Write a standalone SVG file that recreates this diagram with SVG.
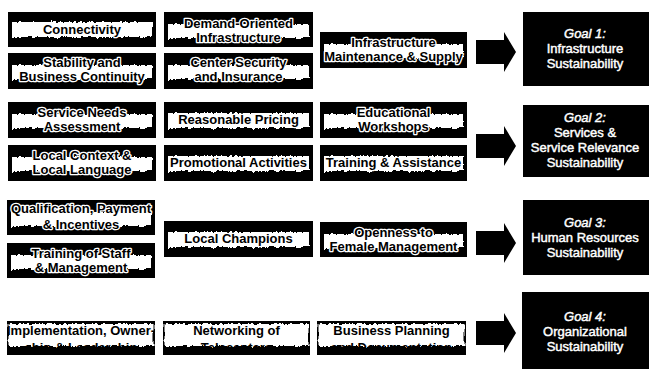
<svg xmlns="http://www.w3.org/2000/svg" width="652" height="369" viewBox="0 0 652 369">
  <style>
    .box { fill: #000; }
    .band { fill: #fff; filter: url(#rough); }
    .lbl { font-family: "Liberation Sans", Arial, sans-serif; font-weight: bold; font-size: 13px; fill: #000; stroke: #fff; stroke-width: 2.6px; stroke-linejoin: round; paint-order: stroke fill; text-anchor: middle; }
    .lbl4 { font-family: "Liberation Sans", Arial, sans-serif; font-weight: bold; font-size: 13px; fill: #000; text-anchor: middle; }
    .goal { fill: #000; }
    .gtxt { font-family: "Liberation Sans", Arial, sans-serif; font-size: 13px; fill: #fff; stroke: #fff; stroke-width: 0.45px; text-anchor: middle; }
    .gtxt .it { font-style: italic; }
    .arrow { fill: #000; }
  </style>
  <defs>
    <!-- torn edge for the white label bands -->
    <filter id="rough" x="-5%" y="-40%" width="110%" height="180%">
      <feTurbulence type="fractalNoise" baseFrequency="0.35 0.09" numOctaves="2" seed="4" result="n"/>
      <feDisplacementMap in="SourceGraphic" in2="n" scale="5" xChannelSelector="R" yChannelSelector="G"/>
    </filter>
    <!-- block arrow, origin at left end of shaft, centred vertically -->
    <polygon id="blockArrow" class="arrow" points="0,-12 28,-12 28,-20 40,0 28,20 28,12 0,12"/>
  </defs>

  <rect width="652" height="369" fill="#fff"/>

  <!-- Goal 1 inputs -->
  <g id="n-connectivity" transform="translate(8,12)">
    <rect class="box" width="148" height="35"/><rect class="band" x="4" y="10" width="140" height="15"/>
    <text class="lbl" x="74" y="21.5">Connectivity</text>
  </g>
  <g id="n-demand-oriented" transform="translate(164,12)">
    <rect class="box" width="149" height="35"/><rect class="band" x="4" y="12" width="141" height="14"/>
    <text class="lbl" x="74.5" y="15.5">Demand-Oriented</text><text class="lbl" x="74.5" y="29.5">Infrastructure</text>
  </g>
  <g id="n-stability" transform="translate(8,53)">
    <rect class="box" width="148" height="36"/><rect class="band" x="4" y="12" width="140" height="14"/>
    <text class="lbl" x="74" y="14">Stability and</text><text class="lbl" x="74" y="28">Business Continuity</text>
  </g>
  <g id="n-center-security" transform="translate(164,53)">
    <rect class="box" width="149" height="36"/><rect class="band" x="4" y="12" width="141" height="14"/>
    <text class="lbl" x="74.5" y="14">Center Security</text><text class="lbl" x="74.5" y="28">and Insurance</text>
  </g>
  <g id="n-maintenance" transform="translate(320,32)">
    <rect class="box" width="147" height="36"/><rect class="band" x="4" y="12" width="139" height="14"/>
    <text class="lbl" x="73.5" y="15">Infrastructure</text><text class="lbl" x="73.5" y="29">Maintenance &amp; Supply</text>
  </g>

  <!-- Goal 2 inputs -->
  <g id="n-service-needs" transform="translate(8,102)">
    <rect class="box" width="148" height="36"/><rect class="band" x="4" y="12" width="140" height="14"/>
    <text class="lbl" x="74" y="15">Service Needs</text><text class="lbl" x="74" y="29">Assessment</text>
  </g>
  <g id="n-pricing" transform="translate(164,102)">
    <rect class="box" width="149" height="36"/><rect class="band" x="4" y="11" width="141" height="15"/>
    <text class="lbl" x="74.5" y="22">Reasonable Pricing</text>
  </g>
  <g id="n-workshops" transform="translate(320,102)">
    <rect class="box" width="147" height="36"/><rect class="band" x="4" y="12" width="139" height="14"/>
    <text class="lbl" x="73.5" y="15">Educational</text><text class="lbl" x="73.5" y="29">Workshops</text>
  </g>
  <g id="n-local-context" transform="translate(8,145)">
    <rect class="box" width="148" height="36"/><rect class="band" x="4" y="12" width="140" height="14"/>
    <text class="lbl" x="74" y="15">Local Context &amp;</text><text class="lbl" x="74" y="29">Local Language</text>
  </g>
  <g id="n-promotional" transform="translate(164,145)">
    <rect class="box" width="149" height="36"/><rect class="band" x="4" y="11" width="141" height="15"/>
    <text class="lbl" x="74.5" y="22">Promotional Activities</text>
  </g>
  <g id="n-training-assistance" transform="translate(320,145)">
    <rect class="box" width="147" height="36"/><rect class="band" x="4" y="11" width="139" height="15"/>
    <text class="lbl" x="73.5" y="22">Training &amp; Assistance</text>
  </g>

  <!-- Goal 3 inputs -->
  <g id="n-qualification" transform="translate(7,200)">
    <rect class="box" width="148" height="35"/><rect class="band" x="4" y="12" width="140" height="14"/>
    <text class="lbl" x="74" y="13">Qualification, Payment</text><text class="lbl" x="74" y="28.5">&amp; Incentives</text>
  </g>
  <g id="n-training-staff" transform="translate(7,243)">
    <rect class="box" width="148" height="35"/><rect class="band" x="4" y="12" width="140" height="14"/>
    <text class="lbl" x="74" y="14.5">Training of Staff</text><text class="lbl" x="74" y="28.5">&amp; Management</text>
  </g>
  <g id="n-local-champions" transform="translate(164,221)">
    <rect class="box" width="149" height="36"/><rect class="band" x="4" y="11" width="141" height="15"/>
    <text class="lbl" x="74.5" y="22">Local Champions</text>
  </g>
  <g id="n-openness" transform="translate(320,222)">
    <rect class="box" width="147" height="35"/><rect class="band" x="4" y="12" width="139" height="14"/>
    <text class="lbl" x="73.5" y="14.5">Openness to</text><text class="lbl" x="73.5" y="28.5">Female Management</text>
  </g>

  <!-- Goal 4 inputs: second line mostly sunk into the dark base strip -->
  <g id="n-implementation" transform="translate(7,321)">
    <rect class="box" width="148" height="34"/><rect class="band" x="1.5" y="3" width="145" height="22"/>
    <text class="lbl4" x="74" y="14">Implementation, Owner-</text><text class="lbl4" x="74" y="30.5">ship &amp; Leadership</text>
  </g>
  <g id="n-networking" transform="translate(163,321)">
    <rect class="box" width="147" height="34"/><rect class="band" x="1.5" y="3" width="144" height="22"/>
    <text class="lbl4" x="73.5" y="14">Networking of</text><text class="lbl4" x="73.5" y="30.5">Telecenters</text>
  </g>
  <g id="n-business-planning" transform="translate(317,321)">
    <rect class="box" width="149" height="34"/><rect class="band" x="1.5" y="3" width="146" height="22"/>
    <text class="lbl4" x="74.5" y="14">Business Planning</text><text class="lbl4" x="74.5" y="30.5">and Documentation</text>
  </g>

  <!-- Goals -->
  <g id="goal-1">
    <rect class="goal" x="523" y="12" width="126" height="74"/>
    <text class="gtxt"><tspan class="it" x="585" y="38">Goal 1:</tspan><tspan x="585" y="53">Infrastructure</tspan><tspan x="585" y="68">Sustainability</tspan></text>
  </g>
  <g id="goal-2">
    <rect class="goal" x="523" y="105" width="126" height="72"/>
    <text class="gtxt"><tspan class="it" x="585" y="122">Goal 2:</tspan><tspan x="585" y="137">Services &amp;</tspan><tspan x="585" y="152">Service Relevance</tspan><tspan x="585" y="167">Sustainability</tspan></text>
  </g>
  <g id="goal-3">
    <rect class="goal" x="523" y="200" width="126" height="75"/>
    <text class="gtxt"><tspan class="it" x="585" y="227">Goal 3:</tspan><tspan x="585" y="242">Human Resources</tspan><tspan x="585" y="257">Sustainability</tspan></text>
  </g>
  <g id="goal-4">
    <rect class="goal" x="522" y="292" width="127" height="77"/>
    <text class="gtxt"><tspan class="it" x="585" y="321">Goal 4:</tspan><tspan x="585" y="336">Organizational</tspan><tspan x="585" y="351">Sustainability</tspan></text>
  </g>

  <!-- Arrows into the goals -->
  <g id="connectors">
    <use href="#blockArrow" transform="translate(476,52)"/>
    <use href="#blockArrow" transform="translate(476,146)"/>
    <use href="#blockArrow" transform="translate(476,243)"/>
    <use href="#blockArrow" transform="translate(476,333)"/>
  </g>
</svg>
